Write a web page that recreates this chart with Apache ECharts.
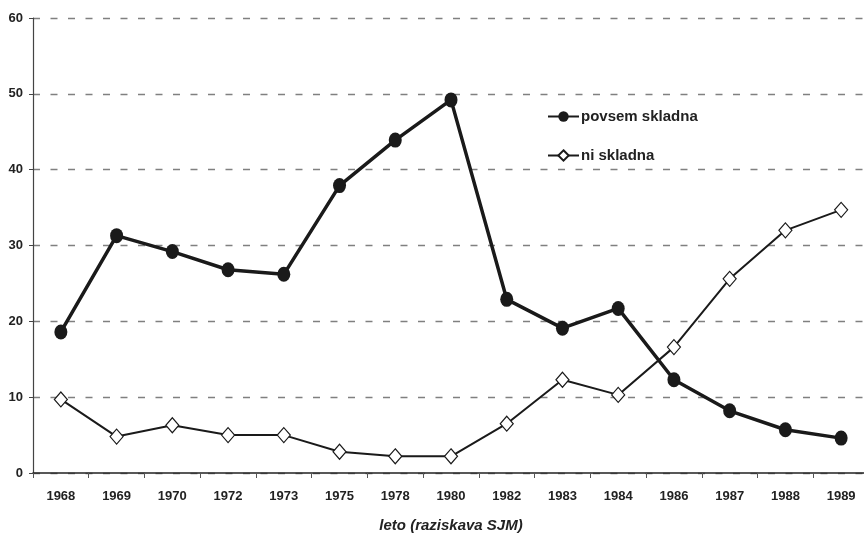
<!DOCTYPE html>
<html><head><meta charset="utf-8">
<script src="https://cdn.jsdelivr.net/npm/echarts@6/dist/echarts.min.js"></script>
<style>html,body{margin:0;padding:0;background:#fff}#c{width:864px;height:533px}</style>
</head><body><div id="c"></div>
<script>
const years = ['1968','1969','1970','1972','1973','1975','1978','1980','1982','1983','1984','1986','1987','1988','1989'];
const povsemSkladna = [18.6, 31.3, 29.2, 26.8, 26.2, 37.9, 43.9, 49.2, 22.9, 19.1, 21.7, 12.3, 8.2, 5.7, 4.6];
const niSkladna = [9.7, 4.8, 6.3, 5.0, 5.0, 2.8, 2.2, 2.2, 6.5, 12.3, 10.3, 16.6, 25.6, 32.0, 34.7];
const yTicks = [0, 10, 20, 30, 40, 50, 60];
const FONT = '"Liberation Sans",Arial,sans-serif';
const chart = echarts.init(document.getElementById('c'), null, {renderer:'canvas'});
chart.setOption({
  animation:false,
  backgroundColor:'#fff',
  grid:{left:33, right:-5, top:18, bottom:60, containLabel:false, outerBoundsMode:'none'},
  legend:{
    orient:'vertical', left:547, top:109, padding:0, itemGap:24, itemWidth:31, itemHeight:13,
    textStyle:{fontFamily:FONT, fontWeight:'bold', fontSize:15, color:'#222', padding:[0,0,0,-3]},
    data:['povsem skladna','ni skladna']
  },
  xAxis:{
    type:'category', data:years, boundaryGap:true,
    axisLine:{lineStyle:{color:'#222', width:1.5}},
    axisTick:{show:true, inside:false, length:5, lineStyle:{color:'#555'}},
    axisLabel:{fontFamily:FONT, fontWeight:'bold', fontSize:13, color:'#222', margin:17},
    name:'leto (raziskava SJM)', nameLocation:'middle', nameGap:45,
    nameTextStyle:{fontFamily:FONT, fontWeight:'bold', fontStyle:'italic', fontSize:15, color:'#222'}
  },
  yAxis:{
    type:'value', min:yTicks[0], max:yTicks[yTicks.length-1], interval:10,
    axisLine:{show:true, lineStyle:{color:'#444', width:1.2}},
    axisTick:{show:true, length:4, lineStyle:{color:'#444'}},
    axisLabel:{fontFamily:FONT, fontWeight:'bold', fontSize:13, color:'#222', margin:10},
    splitLine:{show:true, lineStyle:{color:'#808080', width:1.4, type:[7,10.5]}}
  },
  series:[
    {name:'povsem skladna', type:'line', data:povsemSkladna,
     symbol:'circle', symbolSize:[13,15], itemStyle:{color:'#1a1a1a'},
     lineStyle:{color:'#1a1a1a', width:3.5}, z:3},
    {name:'ni skladna', type:'line', data:niSkladna,
     symbol:'diamond', symbolSize:[13,15],
     itemStyle:{color:'#fff', borderColor:'#1a1a1a', borderWidth:1.2},
     lineStyle:{color:'#1a1a1a', width:2}, z:2}
  ]
});
</script></body></html>
